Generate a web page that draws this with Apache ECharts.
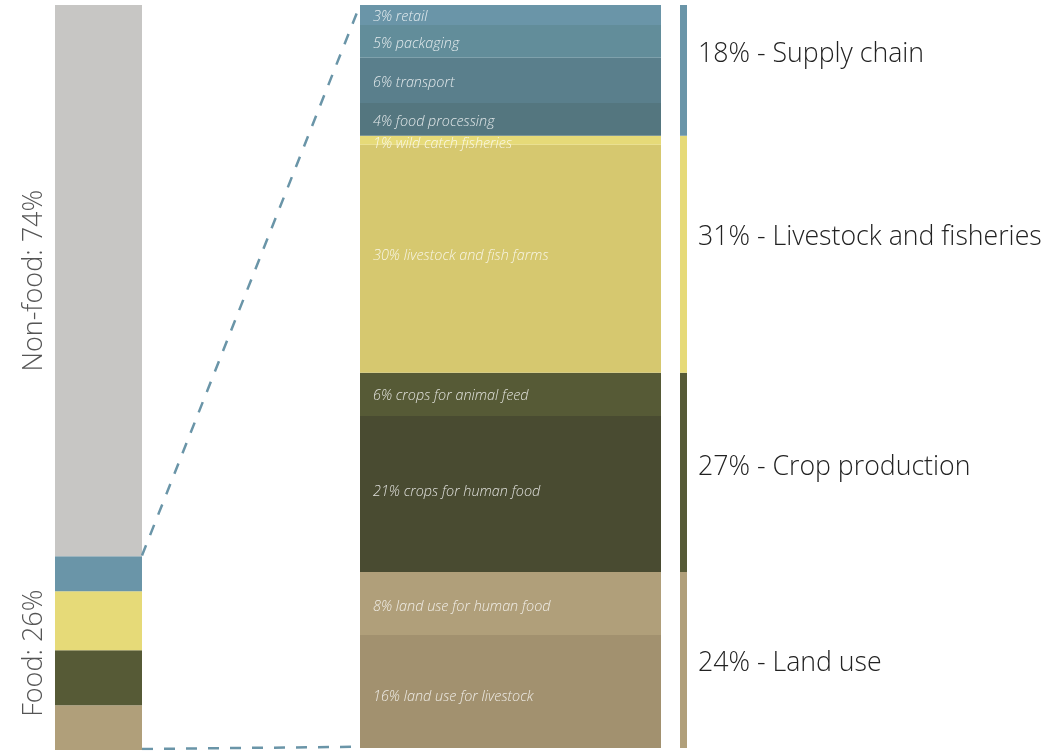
<!DOCTYPE html>
<html>
<head>
<meta charset="utf-8">
<script src="https://cdn.jsdelivr.net/npm/echarts@6/dist/echarts.min.js"></script>
<style>
  html, body { margin: 0; padding: 0; background: #fff; }
  #main { width: 1048px; height: 751px; }
</style>
</head>
<body>
<div id="main"></div>
<script>
// left bar: share of all emissions (bottom to top)
const leftNames = ['Land use', 'Crop production', 'Livestock and fisheries', 'Supply chain', 'Non-food'];
const leftValues = [6.0, 7.4, 7.9, 4.7, 74.0];
const leftColors = ['#b09f7a', '#565a36', '#e6da78', '#6a95a8', '#c7c6c4'];
const leftLabels = ['Food: 26%', 'Non-food: 74%'];

// middle bar: food emissions breakdown (bottom to top)
const midLabels = [
  '16% land use for livestock', '8% land use for human food',
  '21% crops for human food', '6% crops for animal feed',
  '30% livestock and fish farms', '1% wild catch fisheries',
  '4% food processing', '6% transport', '5% packaging', '3% retail'
];
const midValues = [15.2, 8.5, 21.0, 5.8, 30.7, 1.2, 4.4, 6.1, 4.4, 2.7];
const midColors = ['#a2916f', '#b09f7a', '#494b31', '#565a36', '#d6c86f',
  '#e6da78', '#54767f', '#5a7f8c', '#628d9a', '#6a95a8'];
const midGroup = [0, 0, 1, 1, 2, 2, 3, 3, 3, 3];

// right thin bar: groups
const groupLabels = ['24% - Land use', '27% - Crop production', '31% - Livestock and fisheries', '18% - Supply chain'];
const groupColors = ['#b09f7a', '#565a36', '#e6da78', '#6a95a8'];
const groupValues = groupLabels.map((_, g) =>
  +midValues.filter((v, i) => midGroup[i] === g).reduce((a, b) => a + b, 0).toFixed(1));

const foodShare = leftValues.slice(0, 4).reduce((a, b) => a + b, 0);

const chart = echarts.init(document.getElementById('main'));

const hiddenX = (gi) => ({ type: 'category', gridIndex: gi, data: ['a'], show: false });
const hiddenY = (gi) => ({ type: 'value', gridIndex: gi, min: 0, max: 100, show: false });

const midOffsets = [5, 3, -2, 2, -3, 4, 2, 2, 2, 2];
const groupOffsets = [3, -5, -17, -16];

const series = [];

leftValues.forEach((v, i) => {
  series.push({
    type: 'bar', xAxisIndex: 0, yAxisIndex: 0, stack: 'left', barWidth: '100%',
    data: [v], itemStyle: { color: leftColors[i] }, silent: true
  });
});

// transparent overlay carrying the rotated labels
[foodShare, 100 - foodShare].forEach((v, i) => {
  series.push({
    type: 'bar', xAxisIndex: 1, yAxisIndex: 1, stack: 'leftLabel', barWidth: '100%',
    data: [v], itemStyle: { color: 'transparent' }, silent: true,
    label: {
      show: true, position: 'left', rotate: 90, align: 'center', verticalAlign: 'bottom',
      distance: 7, formatter: leftLabels[i], color: '#555', fontSize: 27,
      fontFamily: 'Open Sans', fontWeight: 300
    }
  });
});

midValues.forEach((v, i) => {
  series.push({
    type: 'bar', xAxisIndex: 2, yAxisIndex: 2, stack: 'mid', barWidth: '100%',
    data: [v], itemStyle: { color: midColors[i] }, silent: true,
    label: {
      show: true, position: 'insideLeft', distance: 13, offset: [0, midOffsets[i]],
      formatter: midLabels[i], color: 'rgba(255,255,255,0.82)', fontSize: 14.4,
      fontStyle: 'italic', fontFamily: 'Open Sans', fontWeight: 300
    }
  });
});

groupValues.forEach((v, i) => {
  series.push({
    type: 'bar', xAxisIndex: 3, yAxisIndex: 3, stack: 'group', barWidth: '100%',
    data: [v], itemStyle: { color: groupColors[i] }, silent: true,
    label: {
      show: true, position: 'right', distance: 11, offset: [0, groupOffsets[i]],
      formatter: groupLabels[i], color: '#222', fontSize: 26.7,
      fontFamily: 'Open Sans', fontWeight: 300
    }
  });
});

// dashed connectors from the food part of the left bar to the middle bar
const linkStyle = { color: '#6a95a8', width: 2.5, type: [11, 11] };
series.push({
  type: 'line', xAxisIndex: 4, yAxisIndex: 4, symbol: 'none', silent: true,
  data: [[0, foodShare], [1, 100]], lineStyle: linkStyle
});
series.push({
  type: 'line', xAxisIndex: 4, yAxisIndex: 4, symbol: 'none', silent: true,
  data: [[0, 0], [1, 0.3]], lineStyle: linkStyle
});

chart.setOption({
  backgroundColor: '#fff',
  animation: false,
  grid: [
    { left: 55, width: 87, top: 5, height: 745 },
    { left: 55, width: 87, top: 5, height: 745 },
    { left: 360, width: 301, top: 5, height: 743 },
    { left: 680, width: 7, top: 5, height: 743 },
    { left: 142, width: 218, top: 5, height: 744 }
  ],
  xAxis: [hiddenX(0), hiddenX(1), hiddenX(2), hiddenX(3),
    { type: 'value', gridIndex: 4, min: 0, max: 1, show: false }],
  yAxis: [hiddenY(0), hiddenY(1), hiddenY(2), hiddenY(3), hiddenY(4)],
  series: series
});
</script>
</body>
</html>
